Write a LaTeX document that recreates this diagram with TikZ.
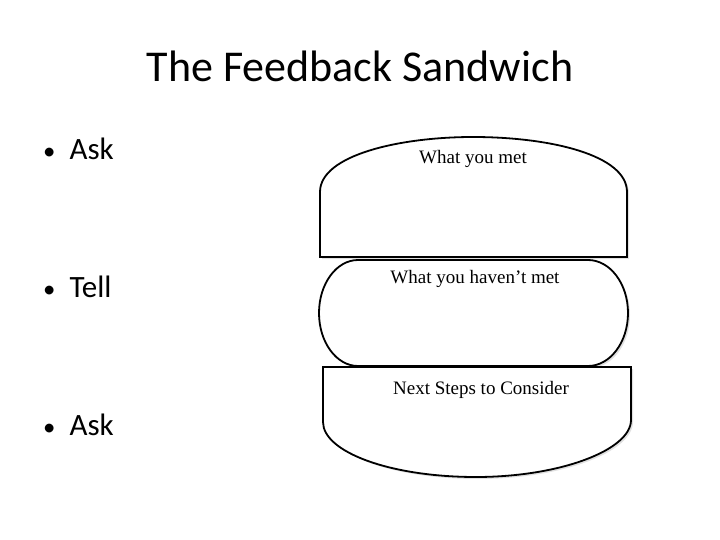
\documentclass[tikz,border=0pt]{standalone}
\usepackage{fontspec}
\setmainfont{Carlito}
\newfontfamily\bunfont{Liberation Serif}
\usetikzlibrary{shadows}
\tikzset{
  bun/.style={draw=black, line width=1.8pt, fill=white,
    drop shadow={shadow xshift=2pt, shadow yshift=-2pt, opacity=0.2, fill=black!60}},
  bunlabel/.style={font=\bunfont\fontsize{19}{21}\selectfont, inner sep=0pt, anchor=base},
  item/.style={font=\fontsize{31}{34}\selectfont, inner sep=0pt, anchor=base west}
}
\begin{document}
\begin{tikzpicture}[x=1pt,y=-1pt]
  \useasboundingbox (0,0) rectangle (720,540);
  % title
  \node[font=\fontsize{44}{48}\selectfont, inner sep=0pt, anchor=base] (title) at (360,82) {The Feedback Sandwich};
  % bullets
  \node[item] (ask1) at (43,160) {\scalebox{0.8}{\textbullet}\hspace{14pt}Ask};
  \node[item] (tell) at (43,297) {\scalebox{0.8}{\textbullet}\hspace{14pt}Tell};
  \node[item] (ask2) at (43,435) {\scalebox{0.8}{\textbullet}\hspace{14pt}Ask};
  % top bun
  \draw[bun] (320,257) -- (320,192) .. controls (320,155) and (400,137) .. (473,137)
    .. controls (550,137) and (627,155) .. (627,192) -- (627,257) -- cycle;
  \node[bunlabel] (met) at (473,164) {What you met};
  % patty
  \draw[bun] (358,260) -- (588,260) arc[start angle=-90, end angle=90, x radius=40, y radius=53]
    -- (358,366) arc[start angle=90, end angle=270, x radius=39, y radius=53] -- cycle;
  \node[bunlabel] (notmet) at (475,283) {What you haven’t met};
  % bottom bun
  \draw[bun] (323,367) -- (631,367) -- (631,420) .. controls (631,450) and (560,477) .. (476,477)
    .. controls (390,477) and (323,452) .. (323,422) -- cycle;
  \node[bunlabel] (next) at (481,394) {Next Steps to Consider};
\end{tikzpicture}
\end{document}
